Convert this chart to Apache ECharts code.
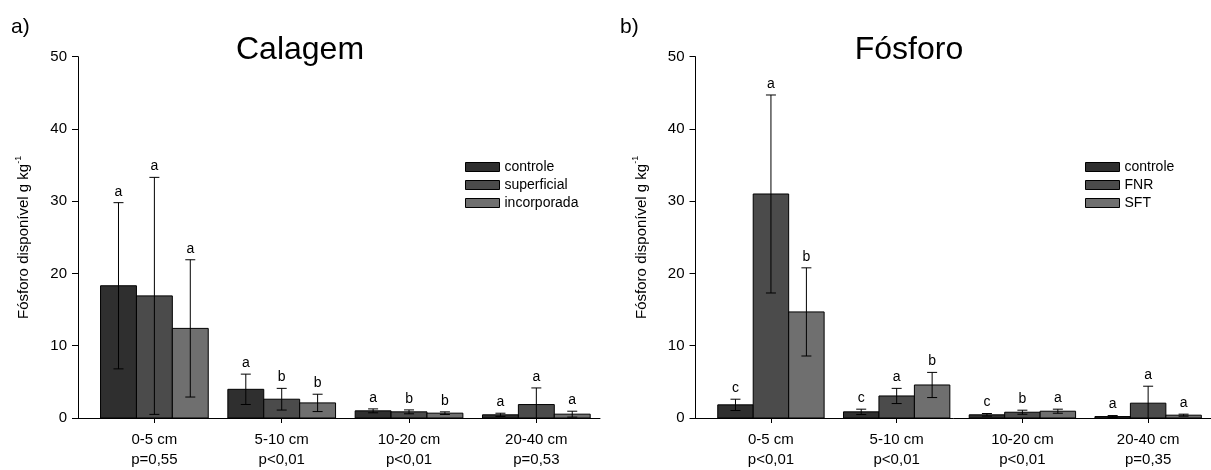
<!DOCTYPE html>
<html>
<head>
<meta charset="utf-8">
<script src="https://cdn.jsdelivr.net/npm/echarts@6/dist/echarts.min.js"></script>
<style>
  html, body { margin: 0; padding: 0; background: #fff; }
  #chart { width: 1211px; height: 470px; }
</style>
</head>
<body>
<div id="chart"></div>
<script>
// profundidades (eixo x)
const depths = ['0-5 cm', '5-10 cm', '10-20 cm', '20-40 cm'];

// a) Calagem
const calNames = ['controle', 'superficial', 'incorporada'];
const calP = ['p=0,55', 'p<0,01', 'p<0,01', 'p=0,53'];
const calControle = [18.3, 3.97, 0.99, 0.44];
const calControleErr = [11.5, 2.1, 0.27, 0.22];
const calControleLet = ['a', 'a', 'a', 'a'];
const calSuperficial = [16.9, 2.6, 0.85, 1.86];
const calSuperficialErr = [16.4, 1.5, 0.27, 2.3];
const calSuperficialLet = ['a', 'b', 'b', 'a'];
const calIncorporada = [12.4, 2.09, 0.67, 0.53];
const calIncorporadaErr = [9.5, 1.2, 0.18, 0.41];
const calIncorporadaLet = ['a', 'b', 'b', 'a'];

// b) Fósforo
const fosNames = ['controle', 'FNR', 'SFT'];
const fosP = ['p<0,01', 'p<0,01', 'p<0,01', 'p=0,35'];
const fosControle = [1.82, 0.85, 0.44, 0.2];
const fosControleErr = [0.78, 0.37, 0.18, 0.14];
const fosControleLet = ['c', 'c', 'c', 'a'];
const fosFNR = [31.0, 3.05, 0.8, 2.05];
const fosFNRErr = [13.7, 1.05, 0.28, 2.35];
const fosFNRLet = ['a', 'a', 'b', 'a'];
const fosSFT = [14.68, 4.57, 0.94, 0.39];
const fosSFTErr = [6.1, 1.74, 0.28, 0.14];
const fosSFTLet = ['b', 'b', 'a', 'a'];

const colors = ['#2f2f2f', '#4b4b4b', '#6f6f6f'];
const FONT = "'Liberation Sans', Arial, sans-serif";
const BAR_W = 0.282;

// barra + barra de erro + letra
function barRender(offset, letters) {
    return function (params, api) {
        const x = api.value(0) + offset;
        const v = api.value(1);
        const e = api.value(2);
        const tl = api.coord([x - BAR_W / 2, v]);
        const br = api.coord([x + BAR_W / 2, 0]);
        const hi = api.coord([x, v + e]);
        const lowV = v - e;
        const lo = api.coord([x, Math.max(lowV, 0)]);
        const cap = 5;
        const children = [
            {
                type: 'rect',
                shape: { x: tl[0], y: tl[1], width: br[0] - tl[0], height: br[1] - tl[1] },
                style: { fill: api.visual('color'), stroke: '#000', lineWidth: 1 }
            },
            {
                type: 'line',
                shape: { x1: hi[0], y1: hi[1], x2: lo[0], y2: lo[1] },
                style: { stroke: '#000', lineWidth: 1 }
            },
            {
                type: 'line',
                shape: { x1: hi[0] - cap, y1: hi[1], x2: hi[0] + cap, y2: hi[1] },
                style: { stroke: '#000', lineWidth: 1 }
            }
        ];
        if (lowV > 0) {
            children.push({
                type: 'line',
                shape: { x1: lo[0] - cap, y1: lo[1], x2: lo[0] + cap, y2: lo[1] },
                style: { stroke: '#000', lineWidth: 1 }
            });
        }
        children.push({
            type: 'text',
            style: {
                text: letters[params.dataIndex], x: hi[0], y: hi[1] - 4,
                align: 'center', verticalAlign: 'bottom',
                fontSize: 14, fontFamily: FONT, fill: '#000'
            }
        });
        return { type: 'group', children: children };
    };
}

function makeSeries(name, vals, errs, letters, idx, axis) {
    return {
        type: 'custom',
        name: name,
        xAxisIndex: axis,
        yAxisIndex: axis,
        itemStyle: { color: colors[idx] },
        renderItem: barRender((idx - 1) * BAR_W, letters),
        encode: { x: 0, y: 1 },
        data: depths.map((d, i) => [i, vals[i], errs[i]])
    };
}

function xAxisOf(grid, pvals) {
    return {
        type: 'value', gridIndex: grid, min: -0.6, max: 3.5,
        axisLine: { onZero: false, lineStyle: { color: '#000', width: 1 } },
        axisTick: { show: true, length: 5, customValues: [0, 1, 2, 3], lineStyle: { color: '#000' } },
        axisLabel: {
            customValues: [0, 1, 2, 3], margin: 12,
            fontSize: 15, lineHeight: 20, color: '#000', fontFamily: FONT,
            formatter: v => depths[Math.round(v)] + '\n' + pvals[Math.round(v)]
        },
        splitLine: { show: false }
    };
}

function yAxisOf(grid) {
    return {
        type: 'value', gridIndex: grid, min: 0, max: 50, interval: 10,
        name: '{a|Fósforo disponível g kg}{s|-1}',
        nameLocation: 'middle', nameGap: 44, nameRotate: 90,
        nameTextStyle: {
            color: '#000', fontFamily: FONT,
            rich: {
                a: { fontSize: 15, lineHeight: 20, fontFamily: FONT, color: '#000' },
                s: { fontSize: 9, lineHeight: 10, verticalAlign: 'top', fontFamily: FONT, color: '#000' }
            }
        },
        axisLine: { show: true, onZero: false, lineStyle: { color: '#000', width: 1 } },
        axisTick: { show: true, length: 6, lineStyle: { color: '#000' } },
        axisLabel: { fontSize: 15, color: '#000', margin: 11, fontFamily: FONT },
        splitLine: { show: false }
    };
}

function legendOf(names, left) {
    return {
        orient: 'vertical', left: left, top: 160, padding: 0,
        itemWidth: 34, itemHeight: 9, itemGap: 4, icon: 'rect',
        selectedMode: false,
        textStyle: { fontSize: 14, lineHeight: 14, color: '#000', fontFamily: FONT },
        data: names.map((n, i) => ({
            name: n,
            itemStyle: { color: colors[i], borderColor: '#000', borderWidth: 1 }
        }))
    };
}

const chart = echarts.init(document.getElementById('chart'));
chart.setOption({
    animation: false,
    backgroundColor: '#fff',
    grid: [
        { left: 78, top: 56.7, width: 522, height: 362.8 },
        { left: 695.5, top: 56.7, width: 524, height: 362.8 }
    ],
    xAxis: [xAxisOf(0, calP), xAxisOf(1, fosP)],
    yAxis: [yAxisOf(0), yAxisOf(1)],
    legend: [legendOf(calNames, 465), legendOf(fosNames, 1085)],
    graphic: [
        { type: 'text', x: 11, y: 27, style: { text: 'a)', fontSize: 21, fontFamily: FONT, fill: '#000', verticalAlign: 'middle' } },
        { type: 'text', x: 620, y: 27, style: { text: 'b)', fontSize: 21, fontFamily: FONT, fill: '#000', verticalAlign: 'middle' } },
        { type: 'text', x: 300, y: 50, style: { text: 'Calagem', fontSize: 32, fontFamily: FONT, fill: '#000', align: 'center', verticalAlign: 'middle' } },
        { type: 'text', x: 909, y: 50, style: { text: 'Fósforo', fontSize: 32, fontFamily: FONT, fill: '#000', align: 'center', verticalAlign: 'middle' } }
    ],
    series: [
        makeSeries(calNames[0], calControle, calControleErr, calControleLet, 0, 0),
        makeSeries(calNames[1], calSuperficial, calSuperficialErr, calSuperficialLet, 1, 0),
        makeSeries(calNames[2], calIncorporada, calIncorporadaErr, calIncorporadaLet, 2, 0),
        makeSeries(fosNames[0], fosControle, fosControleErr, fosControleLet, 0, 1),
        makeSeries(fosNames[1], fosFNR, fosFNRErr, fosFNRLet, 1, 1),
        makeSeries(fosNames[2], fosSFT, fosSFTErr, fosSFTLet, 2, 1)
    ]
});
window.addEventListener('resize', () => chart.resize());
</script>
</body>
</html>
